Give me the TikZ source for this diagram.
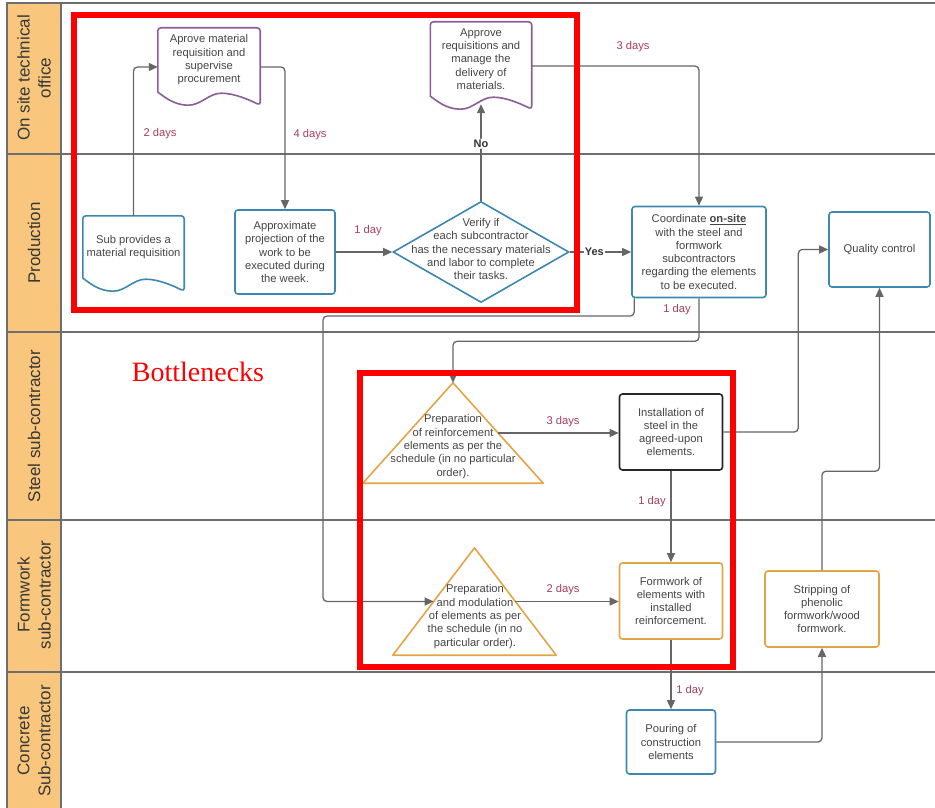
\documentclass[tikz,border=0pt]{standalone}
\usepackage{fontspec}
\setmainfont{Liberation Sans}
\newfontfamily\bnfont{Liberation Serif}
\usetikzlibrary{shapes.geometric,arrows.meta,calc}

\definecolor{lanefill}{HTML}{F9C67D}
\definecolor{laneline}{HTML}{6E6E6E}
\definecolor{flowblue}{HTML}{3C88B0}
\definecolor{flowpurple}{HTML}{8A5C9A}
\definecolor{floworange}{HTML}{E2A445}
\definecolor{flowgray}{HTML}{666666}
\definecolor{daycol}{HTML}{A63D5C}
\definecolor{txtcol}{HTML}{454545}

% outline of a document shape (wavy bottom) round a node
\newcommand{\docline}[2]{%
  \draw[#2, line width=1.6pt, line cap=round, line join=round]
    (#1.south west) [rounded corners=3pt] -- (#1.north west) -- (#1.north east)
    -- ($(#1.south east)+(0pt,-13pt)$) [sharp corners]
    .. controls ($(#1.south west)!.9!(#1.south east)+(0pt,-8pt)$) and ($(#1.south west)!.75!(#1.south east)+(0pt,-1pt)$)
    .. ($(#1.south west)!.62!(#1.south east)+(0pt,-1pt)$)
    .. controls ($(#1.south west)!.5!(#1.south east)+(0pt,-1pt)$) and ($(#1.south west)!.42!(#1.south east)+(0pt,-13pt)$)
    .. ($(#1.south west)!.3!(#1.south east)+(0pt,-13pt)$)
    .. controls ($(#1.south west)!.15!(#1.south east)+(0pt,-13pt)$) and ($(#1.south west)!.06!(#1.south east)+(0pt,-4pt)$)
    .. (#1.south west);}

\begin{document}
\begin{tikzpicture}[x=1pt,y=-1pt,
    every node/.style={font=\fontsize{11.2}{13.3}\selectfont, text=txtcol, align=center, inner sep=0pt},
    lane/.style={draw=laneline, line width=1.8pt},
    lanetxt/.style={rotate=90, font=\fontsize{17}{21}\selectfont, text=black!78},
    box/.style={draw, rounded corners=3pt, line width=1.6pt, fill=white},
    conn/.style={draw=flowgray, line width=1.3pt, rounded corners=4pt, -{Triangle[length=9pt,width=8pt]}},
    days/.style={text=daycol},
    yesno/.style={fill=white, font=\fontsize{11}{13}\selectfont\bfseries, text=black!80, inner sep=1pt},
    redbox/.style={draw=red, line width=6.5pt}]
  \useasboundingbox (0,0) rectangle (935,808);

  % lanes
  \fill[lanefill] (7,3) rectangle (61,812);
  \draw[lane] (7,3) rectangle (940,812);
  \draw[lane] (61,3) -- (61,812);
  \foreach \ly in {154,332,520,672}
    \draw[lane] (7,\ly) -- (940,\ly);
  \node[lanetxt] (laneoffice) at (34,78) {On site technical\\office};
  \node[lanetxt] (laneprod) at (34,243) {Production};
  \node[lanetxt] (lanesteel) at (34,426) {Steel sub-contractor};
  \node[lanetxt] (laneform) at (34,595) {Formwork\\sub-contractor};
  \node[lanetxt] (laneconc) at (34,741) {Concrete\\Sub-contractor};

  % office
  \node[minimum width=102pt, minimum height=64pt] (aprove) at (209,60) {Aprove material\\requisition and\\supervise\\procurement};
  \docline{aprove}{flowpurple}
  \node[minimum width=101pt, minimum height=74pt] (approve) at (481,59) {Approve\\requisitions and\\manage the\\delivery of\\materials.};
  \docline{approve}{flowpurple}

  % production
  \node[minimum width=101pt, minimum height=62pt] (subreq) at (133.5,247) {Sub provides a\\material requisition};
  \docline{subreq}{flowblue}
  \node[box, draw=flowblue, minimum width=100pt, minimum height=84pt] (project) at (285,252) {Approximate\\projection of the\\work to be\\executed during\\the week.};
  \node[diamond, draw=flowblue, line width=1.6pt, fill=white, minimum width=176pt, minimum height=101pt] (verify) at (481,252) {};
  \node (verifytext) at (481,249) {Verify if\\each subcontractor\\has the necessary materials\\and labor to complete\\their tasks.};
  \node[box, draw=flowblue, minimum width=134pt, minimum height=91pt] (coord) at (699,252) {Coordinate \textbf{\underline{on-site}}\\with the steel and\\formwork\\subcontractors\\regarding the elements\\to be executed.};
  \node[box, draw=flowblue, minimum width=101pt, minimum height=75pt] (quality) at (879.5,249.5) {Quality control};

  % steel
  \node[minimum width=180pt, minimum height=100pt] (prepsteel) at (453,433) {};
  \draw[floworange, line width=1.6pt, line join=round] (prepsteel.north) -- (prepsteel.south east) -- (prepsteel.south west) -- cycle;
  \node (prepsteeltext) at (453,446.5) {Preparation\\of reinforcement\\elements as per the\\schedule (in no particular\\order).};
  \node[box, draw=black!85, minimum width=103pt, minimum height=76pt] (install) at (671,432) {Installation of\\steel in the\\agreed-upon\\elements.};

  % formwork
  \node[minimum width=163pt, minimum height=107pt] (prepform) at (474.5,601.5) {};
  \draw[floworange, line width=1.6pt, line join=round] (prepform.north) -- (prepform.south east) -- (prepform.south west) -- cycle;
  \node (prepformtext) at (475,616.5) {Preparation\\and modulation\\of elements as per\\the schedule (in no\\particular order).};
  \node[box, draw=floworange, minimum width=103pt, minimum height=76pt] (formwork) at (671,601) {Formwork of\\elements with\\installed\\reinforcement.};
  \node[box, draw=floworange, minimum width=114pt, minimum height=76pt] (strip) at (822,609) {Stripping of\\phenolic\\formwork/wood\\formwork.};

  % concrete
  \node[box, draw=flowblue, minimum width=89pt, minimum height=64pt] (pour) at (671,742) {Pouring of\\construction\\elements};

  \coordinate (steelside) at ($(prepsteel.north)!.5!(prepsteel.south east)$);
  \coordinate (formleft) at ($(prepform.north)!.5!(prepform.south west)$);
  \coordinate (formright) at ($(prepform.north)!.5!(prepform.south east)$);

  % connectors
  \draw[conn] (subreq.north) |- ([yshift=-7pt]aprove.west);
  \draw[conn] ([yshift=-7pt]aprove.east) -| (project.north);
  \draw[conn] (project.east) -- (verify.west);
  \draw[conn] (verify.north) -- node[yesno, pos=.59] (no) {No} ([yshift=-8pt]approve.south);
  \draw[conn] (verify.east) -- node[yesno, pos=.4] (yes) {Yes} (coord.west);
  \draw[conn] ([yshift=-7pt]approve.east) -| (coord.north);
  \draw[conn] ([xshift=3pt]coord.south west) |- (323,316) |- (formleft);
  \draw[conn] (coord.south) -- ++(0,43) -| (prepsteel.north);
  \draw[conn] (steelside) -- (steelside -| install.west);
  \draw[conn] (install.south) -- (formwork.north);
  \draw[conn] (install.east) -- ++(75,0) |- (quality.west);
  \draw[conn] (formright) -- (formright -| formwork.west);
  \draw[conn] (formwork.south) -- (pour.north);
  \draw[conn] (pour.east) -| (strip.south);
  \draw[conn] (strip.north) -- ++(0,-99) -| (quality.south);

  % durations
  \node[days] (d1) at (160,134) {2 days};
  \node[days] (d2) at (310,135) {4 days};
  \node[days] (d3) at (368,231) {1 day};
  \node[days] (d4) at (633,47) {3 days};
  \node[days] (d5) at (677,310) {1 day};
  \node[days] (d6) at (563,422) {3 days};
  \node[days] (d7) at (652,502) {1 day};
  \node[days] (d8) at (563,590) {2 days};
  \node[days] (d9) at (690,691) {1 day};

  % bottlenecks
  \draw[redbox] (74,15) rectangle (577,310);
  \draw[redbox] (360,373) rectangle (733,667);
  \node[text=red, font=\bnfont\fontsize{28}{32}\selectfont] (bneck) at (198,372) {Bottlenecks};
\end{tikzpicture}
\end{document}
